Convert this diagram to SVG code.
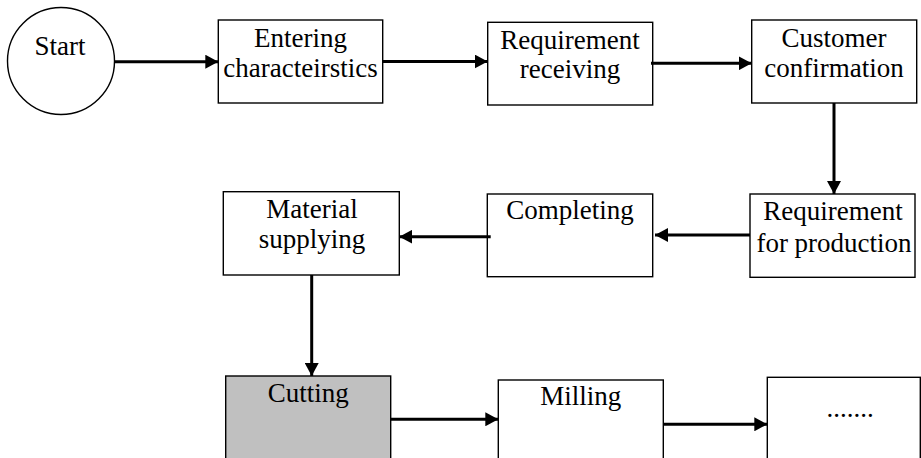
<svg xmlns="http://www.w3.org/2000/svg" width="921" height="458" viewBox="0 0 921 458">
<style>
.box{fill:#fff;stroke:#000;stroke-width:1.4}
.t{font-family:"Liberation Serif","Times New Roman",serif;font-size:27px;fill:#000;text-anchor:middle}
.c{stroke:#000;stroke-width:3;fill:none}
</style>
<defs>
<marker id="ah" markerUnits="userSpaceOnUse" markerWidth="14" markerHeight="14" refX="13" refY="7" orient="auto">
<path d="M0,0 L13,7 L0,14 z" fill="#000"/>
</marker>
</defs>
<rect width="921" height="458" fill="#fff"/>
<g id="start">
<circle cx="61" cy="61" r="53.5" class="box"/>
<text x="60" y="55" class="t">Start</text>
</g>
<g id="entering">
<rect x="218.3" y="20" width="164.4" height="83" class="box"/>
<text x="300.5" y="46.7" class="t">Entering</text>
<text x="300.5" y="76.7" class="t">characteirstics</text>
</g>
<g id="req-receiving">
<rect x="487.7" y="22.3" width="165" height="82.7" class="box"/>
<text x="570" y="49" class="t">Requirement</text>
<text x="570" y="78" class="t">receiving</text>
</g>
<g id="customer">
<rect x="751.7" y="20" width="165" height="83" class="box"/>
<text x="834" y="46.7" class="t">Customer</text>
<text x="834" y="77" class="t">confirmation</text>
</g>
<g id="req-production">
<rect x="750" y="194" width="165" height="83.3" class="box"/>
<text x="833" y="220" class="t">Requirement</text>
<text x="834" y="251.7" class="t">for production</text>
</g>
<g id="completing">
<rect x="487.3" y="194" width="165.4" height="82.7" class="box"/>
<text x="570" y="219.3" class="t">Completing</text>
</g>
<g id="material">
<rect x="223.3" y="191.7" width="176" height="83.3" class="box"/>
<text x="312" y="218.3" class="t">Material</text>
<text x="312" y="248.3" class="t">supplying</text>
</g>
<g id="cutting">
<rect x="225.7" y="376" width="165" height="100" fill="#c0c0c0" stroke="#000" stroke-width="1.4"/>
<text x="308.3" y="401.7" class="t">Cutting</text>
</g>
<g id="milling">
<rect x="498.3" y="380" width="165" height="100" class="box"/>
<text x="580.8" y="405" class="t">Milling</text>
</g>
<g id="etc">
<rect x="767.3" y="377.3" width="153" height="100" class="box"/>
<text x="850" y="417.3" class="t">.......</text>
</g>
<g id="connectors">
<line x1="114.5" y1="61.7" x2="218.3" y2="61.7" class="c" marker-end="url(#ah)"/>
<line x1="382.7" y1="61.5" x2="487.7" y2="61.5" class="c" marker-end="url(#ah)"/>
<line x1="651" y1="63.3" x2="751.7" y2="63.3" class="c" marker-end="url(#ah)"/>
<line x1="834" y1="103" x2="834" y2="194" class="c" marker-end="url(#ah)"/>
<line x1="750" y1="235" x2="655" y2="235" class="c" marker-end="url(#ah)"/>
<line x1="490.7" y1="236.7" x2="399.3" y2="236.7" class="c" marker-end="url(#ah)"/>
<line x1="311.7" y1="275" x2="311.7" y2="376" class="c" marker-end="url(#ah)"/>
<line x1="390.7" y1="419.3" x2="498.3" y2="419.3" class="c" marker-end="url(#ah)"/>
<line x1="663.3" y1="424.3" x2="767.3" y2="424.3" class="c" marker-end="url(#ah)"/>
</g>
</svg>
